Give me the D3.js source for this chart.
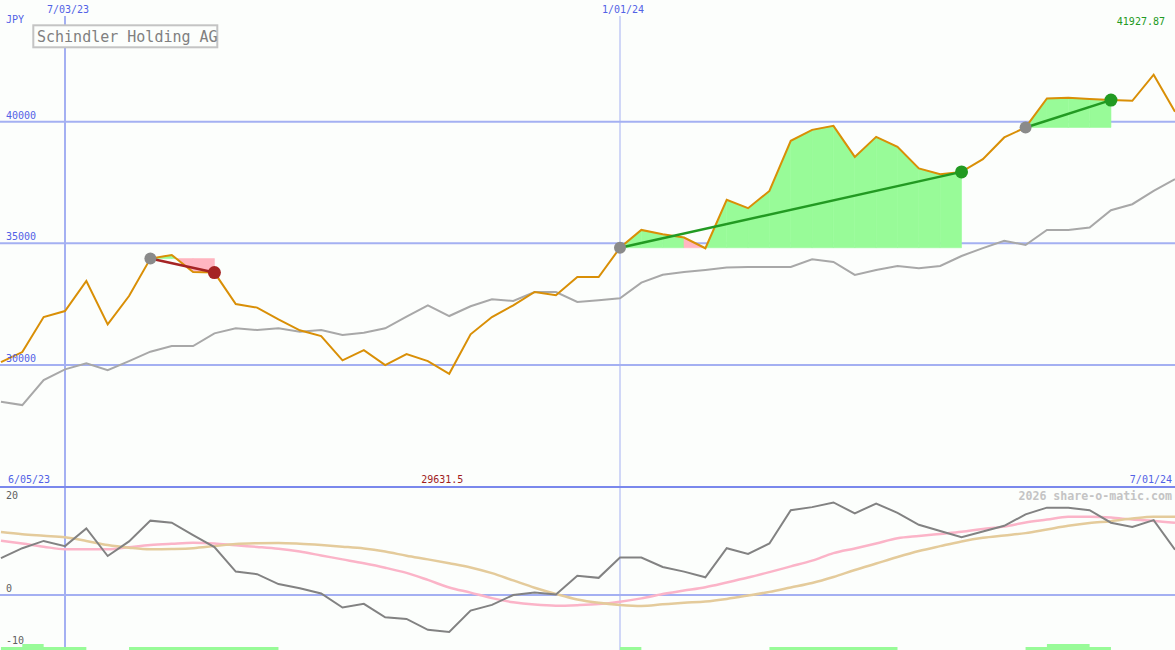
<!DOCTYPE html>
<html>
<head>
<meta charset="utf-8">
<script src="https://cdn.jsdelivr.net/npm/d3@7/dist/d3.min.js"></script>
<style>
html,body{margin:0;padding:0;background:#fcfefc;}
svg{display:block;}
text{font-family:"DejaVu Sans Mono","Liberation Mono",monospace;}
</style>
</head>
<body>
<svg id="chart" width="1175" height="650"></svg>
<script>
// ---------------- data ----------------
const title = "Schindler Holding AG";
const currency = "JPY";
const dates = [
 "2023-06-12","2023-06-19","2023-06-26","2023-07-03","2023-07-10","2023-07-17","2023-07-24","2023-07-31",
 "2023-08-07","2023-08-14","2023-08-21","2023-08-28","2023-09-04","2023-09-11","2023-09-18","2023-09-25",
 "2023-10-02","2023-10-09","2023-10-16","2023-10-23","2023-10-30","2023-11-06","2023-11-13","2023-11-20",
 "2023-11-27","2023-12-04","2023-12-11","2023-12-18","2023-12-25","2024-01-01","2024-01-08","2024-01-15",
 "2024-01-22","2024-01-29","2024-02-05","2024-02-12","2024-02-19","2024-02-26","2024-03-04","2024-03-11",
 "2024-03-18","2024-03-25","2024-04-01","2024-04-08","2024-04-15","2024-04-22","2024-04-29","2024-05-06",
 "2024-05-13","2024-05-20","2024-05-27","2024-06-03","2024-06-10","2024-06-17","2024-06-24","2024-07-01"
];
const price = [
 30115, 30527, 31967, 32214, 33449, 31667, 32831, 34370, 34519, 33819, 33794, 32502, 32354, 31873,
 31420, 31185, 30185, 30609, 29992, 30445, 30157, 29631.5, 31255, 31967, 32449, 32996, 32860, 33613,
 33613, 34815, 35547, 35370, 35235, 34794, 36782, 36440, 37152, 39210, 39662, 39827, 38551, 39374,
 38963, 38074, 37839, 37934, 38457, 39350, 39761, 40954, 40979, 40926, 40884, 40856, 41927.87, 40403
];
const movingAvg = [
 28486, 28346, 29375, 29815, 30062, 29786, 30157, 30543, 30774, 30774, 31296, 31502, 31432, 31502,
 31366, 31432, 31227, 31325, 31502, 31980, 32449, 32008, 32408, 32696, 32626, 32996, 32996, 32584,
 32654, 32737, 33383, 33704, 33819, 33901, 34000, 34025, 34025, 34025, 34342, 34230, 33696, 33901,
 34066, 33971, 34066, 34477, 34800, 35103, 34930, 35547, 35547, 35646, 36358, 36605, 37152, 37634
];
const momentum = [
 7.1, 9.0, 10.4, 9.4, 12.8, 7.5, 10.3, 14.3, 13.9, 11.5, 9.2, 4.5, 4.0, 2.1,
 1.3, 0.3, -2.4, -1.7, -4.3, -4.6, -6.7, -7.1, -3.0, -1.9, 0.0, 0.5, 0.1, 3.7,
 3.3, 7.2, 7.2, 5.4, 4.5, 3.4, 9.0, 7.9, 9.9, 16.3, 16.9, 17.8, 15.7, 17.6,
 15.8, 13.5, 12.3, 11.1, 12.2, 13.3, 15.5, 16.8, 16.8, 16.3, 13.9, 13.1, 14.4, 8.7
];
const signalPink = [
 10.45, 9.9, 9.3, 8.8, 8.8, 8.8, 9.2, 9.6, 9.85, 10.05, 9.9, 9.55, 9.25, 8.9,
 8.35, 7.6, 6.85, 6.1, 5.25, 4.25, 2.9, 1.45, 0.45, -0.6, -1.4, -1.85, -2.05, -1.95,
 -1.75, -1.3, -0.65, 0.2, 0.85, 1.5, 2.4, 3.35, 4.4, 5.5, 6.6, 8.05, 8.95, 9.9,
 10.9, 11.35, 11.75, 12.15, 12.7, 13.15, 13.95, 14.5, 15.05, 15.05, 14.9, 14.5, 14.25, 13.9
];
const signalTan = [
 12.1, 11.7, 11.4, 11.1, 10.4, 9.6, 9.1, 8.8, 8.85, 9.0, 9.4, 9.8, 9.95, 10.0,
 9.85, 9.6, 9.3, 8.95, 8.35, 7.55, 6.85, 6.1, 5.3, 4.2, 2.8, 1.4, 0.2, -0.85,
 -1.5, -1.9, -2.1, -1.8, -1.5, -1.25, -0.75, -0.1, 0.6, 1.45, 2.3, 3.45, 4.8, 6.05,
 7.3, 8.45, 9.4, 10.3, 11.0, 11.45, 11.9, 12.6, 13.3, 13.85, 14.2, 14.7, 15.05, 15.05
];
// trades: index of entry / exit week, win flag, segments forced pink
const tradeStart = [7, 29, 48];
const tradeEnd   = [10, 45, 52];
const tradeWin   = [false, true, true];
const tradePinkSegments = [[], [32], []];
// signal bars at the bottom: start index, end index, level
const barStart = [0, 1, 6, 29, 36, 48, 49];
const barEnd   = [4, 2, 13, 30, 42, 52, 51];
const barLevel = [1, 2, 1, 1, 1, 1, 2];

const priceTicks = [30000, 35000, 40000];
const dateTicks = ["2023-07-03", "2024-01-01"];
const lowerTicks = [20, 0, -10];
const rangeStartLabel = "2023-06-05";
const rangeEndLabel = "2024-07-01";
const credit = "2026 share-o-matic.com";

// ---------------- drawing ----------------
const W = 1175, H = 650, SPLIT = 487;
const parse = d3.timeParse("%Y-%m-%d");
const fmt = d3.timeFormat("%-m/%d/%y");
const D = dates.map(parse);

const svg = d3.select("#chart");
svg.append("rect").attr("width", W).attr("height", H).attr("fill", "#fcfefc");

const x = d3.scaleTime().domain([parse("2023-07-03"), parse("2024-01-01")]).range([65, 620]);
const yTop = d3.scaleLinear().domain([25000, 45000]).range([486.5, 0]);
const yBot = d3.scaleLinear().domain([-10, 20]).range([647, 491]);

const GRID = "#a4b0f2", BLUE = "#5262e6";

// grid - horizontal top
svg.append("g").selectAll("line").data(priceTicks).join("line")
  .attr("x1", 0).attr("x2", W)
  .attr("y1", d => yTop(d)).attr("y2", d => yTop(d))
  .attr("stroke", GRID).attr("stroke-width", 2);
// zero line bottom
svg.append("line").attr("x1", 0).attr("x2", W)
  .attr("y1", yBot(0)).attr("y2", yBot(0))
  .attr("stroke", GRID).attr("stroke-width", 2);
// vertical date lines
svg.append("g").selectAll("line").data(dateTicks).join("line")
  .attr("x1", d => x(parse(d))).attr("x2", d => x(parse(d)))
  .attr("y1", 16).attr("y2", H)
  .attr("stroke", GRID).attr("stroke-width", (d, i) => i === 0 ? 2 : 1);
// separator
svg.append("line").attr("x1", 0).attr("x2", W).attr("y1", SPLIT).attr("y2", SPLIT)
  .attr("stroke", "#7a88ec").attr("stroke-width", 2);

// trade fills
const GREEN_FILL = "#98fb98", PINK_FILL = "#ffb6c1";
const fillG = svg.append("g");
const poly = (pts, c) => fillG.append("path")
  .attr("d", d3.line()(pts) + "Z").attr("fill", c).attr("stroke", c).attr("stroke-width", 0.6);
tradeStart.forEach((s, t) => {
  const e = tradeEnd[t];
  const L = price[s];
  const yl = yTop(L);
  for (let k = s; k < e; k++) {
    const x0 = x(D[k]), x1 = x(D[k + 1]);
    const y0 = yTop(price[k]), y1 = yTop(price[k + 1]);
    const v0 = price[k] - L, v1 = price[k + 1] - L;
    if (tradePinkSegments[t].includes(k)) {
      poly([[x0, y0], [x1, y1], [x1, yl], [x0, yl]], PINK_FILL);
    } else if (v0 >= 0 && v1 >= 0) {
      poly([[x0, y0], [x1, y1], [x1, yl], [x0, yl]], GREEN_FILL);
    } else if (v0 <= 0 && v1 <= 0) {
      poly([[x0, y0], [x1, y1], [x1, yl], [x0, yl]], PINK_FILL);
    } else {
      const f = v0 / (v0 - v1);
      const xm = x0 + f * (x1 - x0);
      poly([[x0, y0], [xm, yl], [x0, yl]], v0 > 0 ? GREEN_FILL : PINK_FILL);
      poly([[xm, yl], [x1, y1], [x1, yl]], v1 > 0 ? GREEN_FILL : PINK_FILL);
    }
  }
});

// top lines
const lineTop = d3.line().x((d, i) => x(D[i])).y(d => yTop(d));
svg.append("path").attr("d", lineTop(movingAvg)).attr("fill", "none")
  .attr("stroke", "#a8a8a8").attr("stroke-width", 2);
svg.append("path").attr("d", lineTop(price)).attr("fill", "none")
  .attr("stroke", "#d98f06").attr("stroke-width", 2);

// trade lines and markers
tradeStart.forEach((s, t) => {
  const e = tradeEnd[t];
  const col = tradeWin[t] ? "#229a22" : "#a52424";
  svg.append("line")
    .attr("x1", x(D[s])).attr("y1", yTop(price[s]))
    .attr("x2", x(D[e])).attr("y2", yTop(price[e]))
    .attr("stroke", col).attr("stroke-width", 2.5);
  svg.append("circle").attr("cx", x(D[s])).attr("cy", yTop(price[s])).attr("r", 6)
    .attr("fill", "#8a8a8a");
  svg.append("circle").attr("cx", x(D[e])).attr("cy", yTop(price[e])).attr("r", 6.5)
    .attr("fill", col);
});

// bottom lines
const lineBot = d3.line().x((d, i) => x(D[i])).y(d => yBot(d)).curve(d3.curveMonotoneX);
svg.append("path").attr("d", lineBot(signalPink)).attr("fill", "none")
  .attr("stroke", "#fbb4c8").attr("stroke-width", 2.5);
svg.append("path").attr("d", lineBot(signalTan)).attr("fill", "none")
  .attr("stroke", "#e4cb9b").attr("stroke-width", 2.5);
svg.append("path").attr("d", d3.line().x((d, i) => x(D[i])).y(d => yBot(d))(momentum))
  .attr("fill", "none").attr("stroke", "#828282").attr("stroke-width", 2);

// bottom signal bars
svg.append("g").selectAll("rect").data(barStart).join("rect")
  .attr("x", (d, i) => x(D[d]))
  .attr("width", (d, i) => x(D[barEnd[i]]) - x(D[d]))
  .attr("y", (d, i) => H - 3 * barLevel[i])
  .attr("height", (d, i) => 3 * barLevel[i])
  .attr("fill", GREEN_FILL);

// title box
svg.append("rect").attr("x", 33.3).attr("y", 25.3).attr("width", 184).attr("height", 22)
  .attr("fill", "#fcfefc").attr("stroke", "#c4c4c4").attr("stroke-width", 2);
svg.append("text").attr("x", 37).attr("y", 41.5).attr("font-size", 15)
  .attr("fill", "#808080").text(title);

// labels
svg.append("text").attr("x", 6).attr("y", 23).attr("font-size", 10).attr("fill", BLUE).text(currency);
svg.append("g").selectAll("text").data(priceTicks).join("text")
  .attr("x", 6).attr("y", d => yTop(d) - 3).attr("font-size", 10).attr("fill", BLUE)
  .text(d => d);
svg.append("g").selectAll("text").data(dateTicks).join("text")
  .attr("x", d => x(parse(d)) + 3).attr("y", 12.5).attr("text-anchor", "middle")
  .attr("font-size", 10).attr("fill", BLUE).text(d => fmt(parse(d)));
svg.append("text").attr("x", 8).attr("y", 483).attr("font-size", 10).attr("fill", BLUE)
  .text(fmt(parse(rangeStartLabel)));
svg.append("text").attr("x", 1172).attr("y", 483).attr("text-anchor", "end")
  .attr("font-size", 10).attr("fill", BLUE).text(fmt(parse(rangeEndLabel)));

// min / max
const maxV = d3.max(price), minV = d3.min(price);
const minI = price.indexOf(minV);
svg.append("text").attr("x", 1165).attr("y", 25).attr("text-anchor", "end")
  .attr("font-size", 10).attr("fill", "#229a22").text(maxV);
svg.append("text").attr("x", x(D[minI]) - 7).attr("y", 483).attr("text-anchor", "middle")
  .attr("font-size", 10).attr("fill", "#a01c1c").text(minV);

// lower ticks
svg.append("g").selectAll("text").data(lowerTicks).join("text")
  .attr("x", 6)
  .attr("y", d => Math.max(yBot(d) - 3, SPLIT + 12))
  .attr("font-size", 10).attr("fill", "#606060").text(d => d);

svg.append("text").attr("x", 1172).attr("y", 500).attr("text-anchor", "end")
  .attr("font-size", 11.6).attr("font-weight", "bold").attr("fill", "#c4c4c4").text(credit);
</script>
</body>
</html>
